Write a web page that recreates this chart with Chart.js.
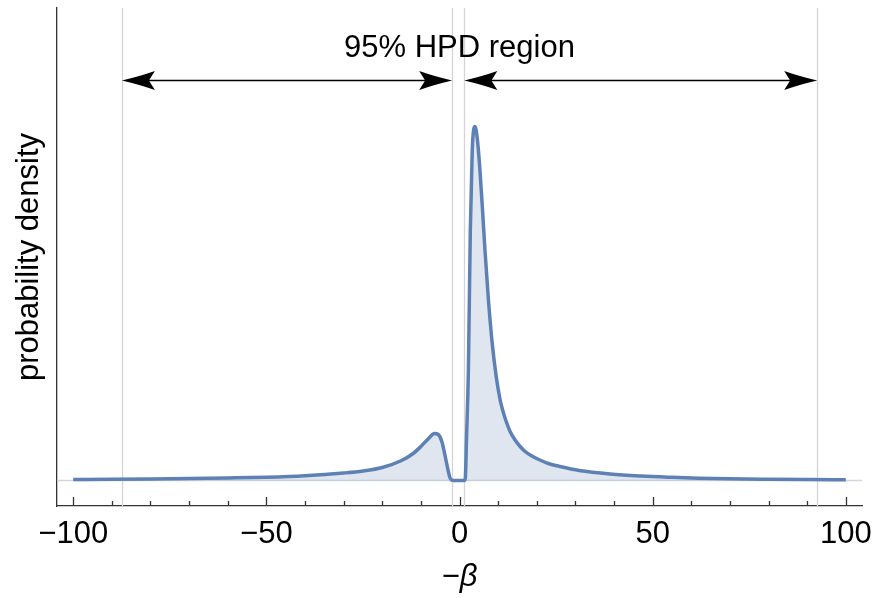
<!DOCTYPE html>
<html>
<head>
<meta charset="utf-8">
<script src="https://cdn.jsdelivr.net/npm/chart.js@4.4.1/dist/chart.umd.min.js"></script>
<style>
  html, body { margin: 0; padding: 0; background: #fff; }
</style>
</head>
<body>
<canvas id="densityChart" width="876" height="598"></canvas>
<script>
// posterior density of -beta
var betaValues = [-100, -90, -80, -70, -60, -50, -40, -30, -25, -20, -15, -12, -10, -8, -6.5, -5.5, -4.5, -3.75, -3, -2.5, -2, -1.5, 0, 1.2, 1.5, 1.8, 2.3, 2.8, 3.3, 4, 4.6, 5.3, 6, 6.6, 7.5, 8.5, 9.5, 10.5, 11.2, 12, 13.1, 14.3, 15.7, 17, 18.5, 20.8, 23, 26, 31, 39, 47, 55, 62, 70, 80, 90, 100];
var density = [0.0010, 0.0012, 0.0015, 0.0019, 0.0025, 0.0033, 0.0048, 0.0075, 0.0095, 0.013, 0.020, 0.027, 0.034, 0.042, 0.047, 0.046, 0.038, 0.025, 0.011, 0.003, 0.0003, 0, 0, 0, 0.002, 0.040, 0.110, 0.250, 0.330, 0.354, 0.342, 0.310, 0.268, 0.230, 0.180, 0.136, 0.104, 0.081, 0.070, 0.060, 0.049, 0.041, 0.034, 0.029, 0.025, 0.0205, 0.017, 0.014, 0.010, 0.0065, 0.0045, 0.0032, 0.0023, 0.0017, 0.0013, 0.0010, 0.0008];

// 95% HPD region (two intervals)
var hpdIntervals = [[-87.4, -1.9], [1.25, 92.6]];
var hpdLabel = '95% HPD region';

var xTickValues = [-100, -50, 0, 50, 100];
var xMinorStep = 10;

var lineColor = '#5E81B5';
var fontFamily = '"Liberation Sans", Arial, sans-serif';
var fontSize = 31;

function arrowHead(ctx, tipX, y, dir) {
    var len = 33, half = 9.5, notch = 6;
    var backX = tipX - dir * len;
    ctx.beginPath();
    ctx.moveTo(tipX, y);
    ctx.quadraticCurveTo(tipX - dir * len * 0.55, y - half * 0.45, backX, y - half);
    ctx.lineTo(tipX - dir * (len - notch), y);
    ctx.lineTo(backX, y + half);
    ctx.quadraticCurveTo(tipX - dir * len * 0.55, y + half * 0.45, tipX, y);
    ctx.closePath();
    ctx.fill();
}

var hpdPlugin = {
    id: 'hpd',
    beforeDatasetsDraw: function (chart) {
        var ctx = chart.ctx, area = chart.chartArea;
        var xs = chart.scales.x, ys = chart.scales.y;
        ctx.save();
        // zero line
        ctx.strokeStyle = '#d2d6de';
        ctx.lineWidth = 1.5;
        ctx.beginPath();
        ctx.moveTo(area.left, ys.getPixelForValue(0));
        ctx.lineTo(area.right, ys.getPixelForValue(0));
        ctx.stroke();
        // interval bounds
        ctx.strokeStyle = '#d4d4d4';
        ctx.lineWidth = 1.3;
        hpdIntervals.forEach(function (iv) {
            iv.forEach(function (v) {
                var px = Math.round(xs.getPixelForValue(v)) + 0.5;
                ctx.beginPath();
                ctx.moveTo(px, area.top);
                ctx.lineTo(px, area.bottom);
                ctx.stroke();
            });
        });
        ctx.restore();
    },
    afterDatasetsDraw: function (chart) {
        var ctx = chart.ctx, area = chart.chartArea;
        var xs = chart.scales.x, ys = chart.scales.y;
        ctx.save();

        // arrows
        var ay = Math.round(ys.getPixelForValue(0.400)) + 0.5;
        ctx.strokeStyle = '#000';
        ctx.fillStyle = '#000';
        ctx.lineWidth = 1.3;
        hpdIntervals.forEach(function (iv) {
            var x1 = xs.getPixelForValue(iv[0]);
            var x2 = xs.getPixelForValue(iv[1]);
            ctx.beginPath();
            ctx.moveTo(x1 + 10, ay);
            ctx.lineTo(x2 - 10, ay);
            ctx.stroke();
            arrowHead(ctx, x1, ay, -1);
            arrowHead(ctx, x2, ay, 1);
        });

        // label
        ctx.font = fontSize + 'px ' + fontFamily;
        ctx.textAlign = 'center';
        ctx.textBaseline = 'middle';
        ctx.fillText(hpdLabel, xs.getPixelForValue(0), ys.getPixelForValue(0.4325));

        // inward tick marks on the bottom axis
        ctx.strokeStyle = '#333';
        ctx.lineWidth = 1.3;
        for (var v = -100; v <= 100; v += xMinorStep) {
            var px = Math.round(xs.getPixelForValue(v)) + 0.5;
            var h = (v % 50 === 0) ? 9 : 5;
            ctx.beginPath();
            ctx.moveTo(px, area.bottom);
            ctx.lineTo(px, area.bottom - h);
            ctx.stroke();
        }
        ctx.restore();
    }
};

var points = betaValues.map(function (b, i) {
    return { x: b, y: density[i] };
});

var ctx = document.getElementById('densityChart').getContext('2d');

var densityChart = new Chart(ctx, {
    type: 'line',
    data: {
        datasets: [{
            data: points,
            borderColor: lineColor,
            borderWidth: 3.5,
            backgroundColor: 'rgba(94, 129, 181, 0.2)',
            fill: 'origin',
            pointRadius: 0,
            cubicInterpolationMode: 'monotone'
        }]
    },
    options: {
        responsive: false,
        animation: false,
        devicePixelRatio: 1,
        layout: { padding: { top: 8, right: 14, left: 0, bottom: 0 } },
        plugins: {
            legend: { display: false },
            tooltip: { enabled: false }
        },
        scales: {
            x: {
                type: 'linear',
                min: -104.2,
                max: 104.2,
                afterBuildTicks: function (scale) {
                    scale.ticks = xTickValues.map(function (v) { return { value: v }; });
                },
                afterFit: function (scale) { scale.height = 92; },
                grid: { display: false },
                border: { display: true, color: '#333', width: 1.3 },
                ticks: {
                    color: '#000',
                    padding: 2,
                    maxRotation: 0,
                    font: { family: fontFamily, size: fontSize },
                    callback: function (v) { return String(v).replace('-', '\u2212'); }
                },
                title: {
                    display: true,
                    text: '\u2212\u03b2',
                    color: '#000',
                    padding: { top: 0, bottom: 2 },
                    font: { family: fontFamily, size: fontSize, style: 'italic' }
                }
            },
            y: {
                min: -0.0255,
                max: 0.4725,
                afterFit: function (scale) { scale.width = 57; },
                grid: { display: false },
                border: { display: true, color: '#333', width: 1.3 },
                ticks: { display: false },
                title: {
                    display: true,
                    text: 'probability density',
                    color: '#000',
                    padding: { top: 11, bottom: 0 },
                    font: { family: fontFamily, size: fontSize }
                }
            }
        }
    },
    plugins: [hpdPlugin]
});
</script>
</body>
</html>
